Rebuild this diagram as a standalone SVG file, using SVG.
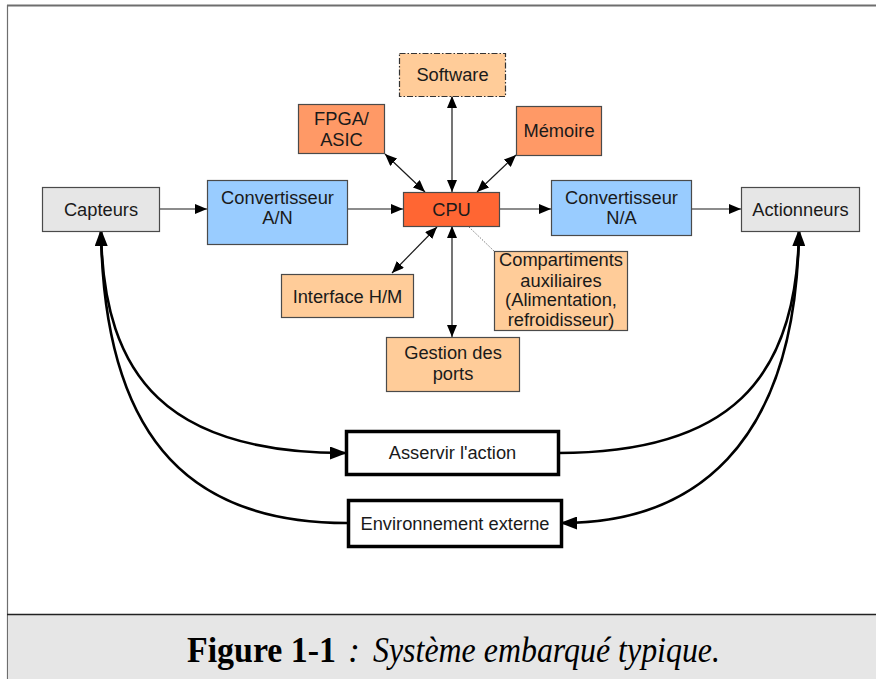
<svg xmlns="http://www.w3.org/2000/svg" width="876" height="679" viewBox="0 0 876 679">
  <style>
    .box { stroke: #4a4a4a; stroke-width: 1.2; }
    .grey { fill: #e6e6e6; }
    .blue { fill: #99ccff; }
    .peach { fill: #ffcc99; }
    .orange { fill: #ff9966; }
    .cpu { fill: #ff6633; }
    .thick { fill: #ffffff; stroke: #000000; stroke-width: 3.5; }
    text { font-family: "Liberation Sans", Arial, sans-serif; font-size: 18.3px; fill: #1a1a1a; text-anchor: middle; }
    .link { fill: none; stroke: #1a1a1a; stroke-width: 1.2; }
    .both { marker-start: url(#tip); marker-end: url(#tip); }
    .one { marker-end: url(#tip); }
    .loop { fill: none; stroke: #000000; stroke-width: 2.6; marker-end: url(#bigtip); }
    text.cap { font-family: "Liberation Serif", "Times New Roman", serif; font-size: 36px; fill: #000000; text-anchor: start; }
    text.cap-b { font-weight: bold; }
    text.cap-i { font-style: italic; }
  </style>
  <defs>
    <marker id="tip" viewBox="0 0 12 10" refX="12" refY="5" markerWidth="12" markerHeight="10" markerUnits="userSpaceOnUse" orient="auto-start-reverse">
      <path d="M0,0 L12,5 L0,10 z" fill="#000000"/>
    </marker>
    <marker id="bigtip" viewBox="0 0 17 13" refX="15" refY="6.5" markerWidth="17" markerHeight="13" markerUnits="userSpaceOnUse" orient="auto-start-reverse">
      <path d="M0,0 L17,6.5 L0,13 z" fill="#000000"/>
    </marker>
  </defs>

  <rect x="0" y="0" width="876" height="679" fill="#ffffff"/>

  <!-- page frame and caption band -->
  <g id="frame">
    <line x1="7" y1="5.5" x2="876" y2="5.5" stroke="#6e6e6e" stroke-width="2"/>
    <line x1="7.5" y1="5" x2="7.5" y2="679" stroke="#6e6e6e" stroke-width="1.2"/>
    <rect x="8" y="614" width="868" height="65" fill="#e6e6e6"/>
    <line x1="7" y1="614.5" x2="876" y2="614.5" stroke="#222222" stroke-width="1.6"/>
  </g>

  <!-- connectors -->
  <g id="connectors">
    <line class="link one" x1="159" y1="209" x2="207" y2="209"/>
    <line class="link one" x1="347" y1="209" x2="403" y2="209"/>
    <line class="link one" x1="499" y1="209" x2="551" y2="209"/>
    <line class="link one" x1="691" y1="209" x2="741" y2="209"/>
    <line class="link both" x1="452" y1="96" x2="452" y2="192"/>
    <line class="link both" x1="385" y1="154" x2="425" y2="192"/>
    <line class="link both" x1="516" y1="155" x2="477" y2="192"/>
    <line class="link both" x1="392" y1="273" x2="437" y2="227"/>
    <line class="link both" x1="452" y1="226" x2="452" y2="337"/>
    <line x1="469" y1="227" x2="494" y2="251" stroke="#777777" stroke-width="1" stroke-dasharray="1.5,1.5"/>
    <path class="loop" d="M101,231 C103,380 170,453 345,453"/>
    <path class="loop" d="M347,523 C200,523 104,450 101,231"/>
    <path class="loop" d="M558,453 C729,453 797,380 799,231"/>
    <path class="loop" d="M799,231 C796,450 690,523 562,523"/>
  </g>

  <!-- nodes -->
  <g id="software">
    <rect x="399.5" y="53.5" width="106" height="43" class="peach" stroke="#333333" stroke-width="1.2" stroke-dasharray="6,2,1.5,2"/>
    <text x="452.5" y="81">Software</text>
  </g>
  <g id="fpga">
    <rect x="298.5" y="104.5" width="86" height="49" class="box orange"/>
    <text x="341.5" y="125">FPGA/</text>
    <text x="341.5" y="145.5">ASIC</text>
  </g>
  <g id="memoire">
    <rect x="516.5" y="106.5" width="85" height="49" class="box orange"/>
    <text x="559" y="137">Mémoire</text>
  </g>
  <g id="cpu">
    <rect x="403.5" y="192.5" width="96" height="34" class="box cpu"/>
    <text x="451.5" y="215.5">CPU</text>
  </g>
  <g id="capteurs">
    <rect x="42.5" y="187.5" width="117" height="44" class="box grey"/>
    <text x="101" y="215.5">Capteurs</text>
  </g>
  <g id="conv-an">
    <rect x="207.5" y="180.5" width="140" height="64" class="box blue"/>
    <text x="277.5" y="203.5">Convertisseur</text>
    <text x="277.5" y="223.5">A/N</text>
  </g>
  <g id="conv-na">
    <rect x="551.5" y="180.5" width="140" height="55" class="box blue"/>
    <text x="621.5" y="203.5">Convertisseur</text>
    <text x="621.5" y="224">N/A</text>
  </g>
  <g id="actionneurs">
    <rect x="741.5" y="187.5" width="118" height="44" class="box grey"/>
    <text x="800.5" y="215.5">Actionneurs</text>
  </g>
  <g id="interface">
    <rect x="281.5" y="274.5" width="132" height="43" class="box peach"/>
    <text x="347.5" y="303">Interface H/M</text>
  </g>
  <g id="compartiments">
    <rect x="494.5" y="251.5" width="133" height="79" class="box peach"/>
    <text x="561" y="266">Compartiments</text>
    <text x="561" y="286.5">auxiliaires</text>
    <text x="561" y="306">(Alimentation,</text>
    <text x="561" y="326">refroidisseur)</text>
  </g>
  <g id="gestion">
    <rect x="386.5" y="337.5" width="133" height="54" class="box peach"/>
    <text x="453" y="359">Gestion des</text>
    <text x="453" y="379.5">ports</text>
  </g>
  <g id="asservir">
    <rect x="346.5" y="431.5" width="212" height="43" class="thick"/>
    <text x="452.5" y="459">Asservir l'action</text>
  </g>
  <g id="environnement">
    <rect x="348.5" y="500.5" width="213" height="46" class="thick"/>
    <text x="455" y="529.5">Environnement externe</text>
  </g>

  <!-- caption -->
  <g id="caption">
    <text class="cap cap-b" x="187" y="662" textLength="149" lengthAdjust="spacingAndGlyphs">Figure 1-1</text>
    <text class="cap cap-i" x="348" y="662">:</text>
    <text class="cap cap-i" x="373" y="662" textLength="347" lengthAdjust="spacingAndGlyphs">Système embarqué typique.</text>
  </g>
</svg>
